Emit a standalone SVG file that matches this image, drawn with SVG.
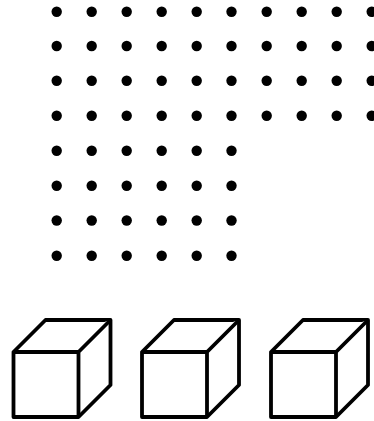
<svg xmlns="http://www.w3.org/2000/svg" width="374" height="421" viewBox="0 0 374 421">
<defs>
<style>
.d{fill:#000}
.c{fill:#fff;stroke:#000;stroke-width:3.8;stroke-linejoin:round}
</style>
<circle id="dot" r="5.2" class="d"/>
<g id="cube">
<path class="c" d="M0 32 L32 0 L97 0 L97 65 L65 97 L0 97 Z"/>
<path class="c" d="M0 32 L65 32 L97 0 M65 32 L65 97" fill="none"/>
</g>
</defs>
<rect width="374" height="421" fill="#fff"/>
<g id="dots">
<g id="row1">
<use href="#dot" x="56.7" y="11.7"/><use href="#dot" x="91.7" y="11.7"/><use href="#dot" x="126.7" y="11.7"/><use href="#dot" x="161.7" y="11.7"/><use href="#dot" x="196.7" y="11.7"/><use href="#dot" x="231.5" y="11.7"/><use href="#dot" x="266.7" y="11.7"/><use href="#dot" x="301.7" y="11.7"/><use href="#dot" x="336.7" y="11.7"/><use href="#dot" x="371.7" y="11.7"/>
</g>
<g id="row2">
<use href="#dot" x="56.7" y="46"/><use href="#dot" x="91.7" y="46"/><use href="#dot" x="126.7" y="46"/><use href="#dot" x="161.7" y="46"/><use href="#dot" x="196.7" y="46"/><use href="#dot" x="231.5" y="46"/><use href="#dot" x="266.7" y="46"/><use href="#dot" x="301.7" y="46"/><use href="#dot" x="336.7" y="46"/><use href="#dot" x="371.7" y="46"/>
</g>
<g id="row3">
<use href="#dot" x="56.7" y="80.7"/><use href="#dot" x="91.7" y="80.7"/><use href="#dot" x="126.7" y="80.7"/><use href="#dot" x="161.7" y="80.7"/><use href="#dot" x="196.7" y="80.7"/><use href="#dot" x="231.5" y="80.7"/><use href="#dot" x="266.7" y="80.7"/><use href="#dot" x="301.7" y="80.7"/><use href="#dot" x="336.7" y="80.7"/><use href="#dot" x="371.7" y="80.7"/>
</g>
<g id="row4">
<use href="#dot" x="56.7" y="115.7"/><use href="#dot" x="91.7" y="115.7"/><use href="#dot" x="126.7" y="115.7"/><use href="#dot" x="161.7" y="115.7"/><use href="#dot" x="196.7" y="115.7"/><use href="#dot" x="231.5" y="115.7"/><use href="#dot" x="266.7" y="115.7"/><use href="#dot" x="301.7" y="115.7"/><use href="#dot" x="336.7" y="115.7"/><use href="#dot" x="371.7" y="115.7"/>
</g>
<g id="row5">
<use href="#dot" x="56.7" y="150.7"/><use href="#dot" x="91.7" y="150.7"/><use href="#dot" x="126.7" y="150.7"/><use href="#dot" x="161.7" y="150.7"/><use href="#dot" x="196.7" y="150.7"/><use href="#dot" x="231.5" y="150.7"/>
</g>
<g id="row6">
<use href="#dot" x="56.7" y="185.7"/><use href="#dot" x="91.7" y="185.7"/><use href="#dot" x="126.7" y="185.7"/><use href="#dot" x="161.7" y="185.7"/><use href="#dot" x="196.7" y="185.7"/><use href="#dot" x="231.5" y="185.7"/>
</g>
<g id="row7">
<use href="#dot" x="56.7" y="220.5"/><use href="#dot" x="91.7" y="220.5"/><use href="#dot" x="126.7" y="220.5"/><use href="#dot" x="161.7" y="220.5"/><use href="#dot" x="196.7" y="220.5"/><use href="#dot" x="231.5" y="220.5"/>
</g>
<g id="row8">
<use href="#dot" x="56.7" y="255.7"/><use href="#dot" x="91.7" y="255.7"/><use href="#dot" x="126.7" y="255.7"/><use href="#dot" x="161.7" y="255.7"/><use href="#dot" x="196.7" y="255.7"/><use href="#dot" x="231.5" y="255.7"/>
</g>
</g>
<g id="cube1"><use href="#cube" x="13.5" y="320"/></g>
<g id="cube2"><use href="#cube" x="142" y="320"/></g>
<g id="cube3"><use href="#cube" x="271" y="320"/></g>
</svg>
